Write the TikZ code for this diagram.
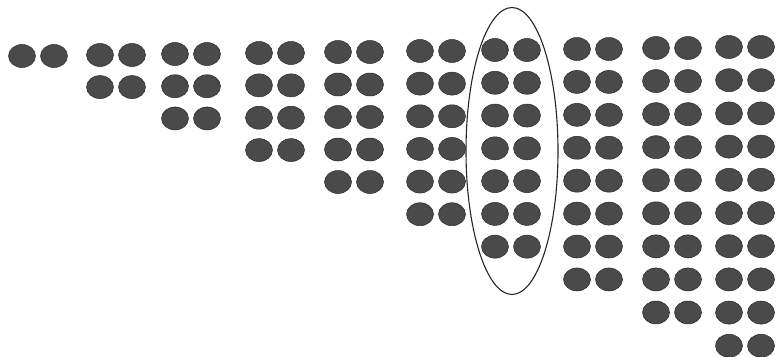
\documentclass[tikz,border=0pt]{standalone}
\usetikzlibrary{shapes.geometric}
\definecolor{BeadGray}{HTML}{4A4A4A}
\definecolor{BeadEdge}{HTML}{2A2A2A}
\tikzset{
  bead/.style={ellipse,fill=BeadGray,draw=BeadEdge,line width=0.5pt,
    minimum width=27pt,minimum height=23pt,inner sep=0pt},
  ring/.style={ellipse,draw=black!85,line width=1.1pt,
    minimum width=92pt,minimum height=287pt,inner sep=0pt}
}
\begin{document}
\begin{tikzpicture}[x=1pt,y=-1pt]
  \useasboundingbox (0,0) rectangle (778,356);
  % columns of paired beads, column c has c rows
  \foreach \c/\x in {1/22,2/100,3/175,4/259,5/338,6/420,7/495,8/577,9/656,10/729}{
    \foreach \r in {1,...,\c}{
      \pgfmathsetmacro\yy{57-\c+(\r-1)*(31.8+0.14*\c)}
      \node[bead] (l\c-\r) at (\x,\yy) {};
      \node[bead] (r\c-\r) at (\x+32,\yy) {};
    }
  }
  % the seventh column is circled
  \node[ring] (circled) at (512,151) {};
\end{tikzpicture}
\end{document}
